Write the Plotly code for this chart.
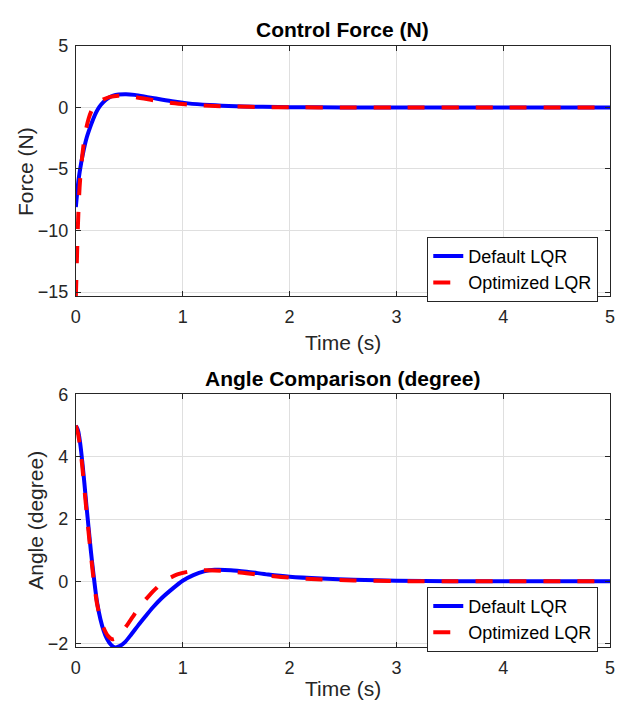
import plotly.graph_objects as go

# ---------------- data ----------------
t_force_default = [0, 0.025, 0.05, 0.075, 0.1, 0.13, 0.16, 0.19, 0.22, 0.26, 0.30, 0.35, 0.40, 0.47,
                   0.55, 0.65, 0.75, 0.9, 1.05, 1.25, 1.5, 1.75, 2.0, 2.5, 3.0, 4.0, 5.0]
force_default = [-8.1, -5.9, -4.5, -3.4, -2.5, -1.7, -1.0, -0.4, 0.05, 0.45, 0.75, 0.96, 1.05, 1.08,
                 1.02, 0.88, 0.72, 0.5, 0.33, 0.2, 0.1, 0.05, 0.02, 0.0, 0.0, 0.0, 0.0]

t_force_opt = [0, 0.008, 0.016, 0.025, 0.035, 0.05, 0.07, 0.09, 0.12, 0.15, 0.19, 0.25, 0.32, 0.40,
               0.47, 0.55, 0.65, 0.75, 0.9, 1.05, 1.25, 1.5, 1.75, 2.0, 2.5, 3.0, 4.0, 5.0]
force_opt = [-15.4, -13.0, -10.5, -8.3, -6.5, -4.8, -3.2, -2.0, -0.9, -0.2, 0.3, 0.62, 0.86, 0.95,
             0.93, 0.85, 0.7, 0.55, 0.36, 0.24, 0.14, 0.07, 0.03, 0.01, 0.0, 0.0, 0.0, 0.0]

t_angle_default = [0, 0.02, 0.04, 0.06, 0.08, 0.10, 0.12, 0.14, 0.16, 0.18, 0.20, 0.23, 0.26, 0.29,
                   0.33, 0.37, 0.41, 0.46, 0.52, 0.58, 0.65, 0.72, 0.8, 0.9, 1.0, 1.1, 1.2, 1.3,
                   1.45, 1.6, 1.8, 2.0, 2.3, 2.6, 3.0, 3.5, 4.0, 5.0]
angle_default = [5.0, 4.85, 4.45, 3.85, 3.15, 2.4, 1.7, 1.0, 0.38, -0.2, -0.7, -1.22, -1.58, -1.84,
                 -2.04, -2.12, -2.08, -1.95, -1.7, -1.43, -1.13, -0.84, -0.55, -0.25, 0.02, 0.2, 0.32, 0.37,
                 0.36, 0.31, 0.22, 0.15, 0.09, 0.05, 0.02, 0.0, 0.0, 0.0]

t_angle_opt = [0, 0.02, 0.04, 0.06, 0.08, 0.10, 0.12, 0.14, 0.16, 0.18, 0.20, 0.23, 0.26, 0.30,
               0.34, 0.38, 0.42, 0.47, 0.53, 0.6, 0.68, 0.76, 0.85, 0.95, 1.05, 1.15, 1.3,
               1.5, 1.75, 2.0, 2.3, 2.6, 3.0, 3.5, 4.0, 5.0]
angle_opt = [5.0, 4.75, 4.3, 3.7, 2.98, 2.25, 1.55, 0.88, 0.25, -0.3, -0.75, -1.2, -1.5, -1.75,
             -1.86, -1.82, -1.68, -1.45, -1.15, -0.8, -0.48, -0.2, 0.05, 0.22, 0.31, 0.35, 0.35,
             0.3, 0.2, 0.12, 0.06, 0.03, 0.01, 0.0, 0.0, 0.0]

x_ticks = [0, 1, 2, 3, 4, 5]
force_ticks = [-15, -10, -5, 0, 5]
angle_ticks = [-2, 0, 2, 4, 6]

series_names = ["Default LQR", "Optimized LQR"]
titles = ["Control Force (N)", "Angle Comparison (degree)"]
xlabel = "Time (s)"
ylabels = ["Force (N)", "Angle (degree)"]

# ---------------- styling ----------------
W, H = 620, 713
FONT = "Liberation Sans, Arial, Helvetica, sans-serif"
AX = "#262626"
GRID = "#dfdfdf"
BLUE = "#0000ff"
RED = "#ff0000"

def px(y):
    return 1 - y / H

fig = go.Figure()

def add_pair(tx1, y1, tx2, y2, xa, ya, legend):
    fig.add_trace(go.Scatter(x=tx1, y=y1, mode="lines", name=series_names[0],
                             line=dict(color=BLUE, width=4, shape="spline", smoothing=0.8),
                             xaxis=xa, yaxis=ya, legend=legend))
    fig.add_trace(go.Scatter(x=tx2, y=y2, mode="lines", name=series_names[1],
                             line=dict(color=RED, width=4, dash="17px,17px", shape="spline", smoothing=0.8),
                             xaxis=xa, yaxis=ya, legend=legend))

add_pair(t_force_default, force_default, t_force_opt, force_opt, "x", "y", "legend")
add_pair(t_angle_default, angle_default, t_angle_opt, angle_opt, "x2", "y2", "legend2")

xdom = [72 / W, 615 / W]
top_dom = [px(293), px(36.7)]
bot_dom = [px(652), px(393.3)]

common = dict(showline=True, linecolor=AX, linewidth=1, mirror="ticks", ticks="inside",
              ticklen=5, tickwidth=1, tickcolor=AX, showgrid=True, gridcolor=GRID, gridwidth=1,
              zeroline=False, tickfont=dict(family=FONT, size=18, color=AX),
              ticklabeloverflow="allow")

fig.update_layout(
    width=W, height=H, margin=dict(l=0, r=0, t=0, b=0),
    paper_bgcolor="white", plot_bgcolor="white",
    showlegend=True,
    xaxis=dict(domain=xdom, anchor="y", range=[0, 5], tickvals=x_ticks, ticklabelstandoff=4, **common),
    yaxis=dict(domain=top_dom, anchor="x", range=[-15.35, 5], tickvals=force_ticks, ticklabelstandoff=3, **common),
    xaxis2=dict(domain=xdom, anchor="y2", range=[0, 5], tickvals=x_ticks, ticklabelstandoff=4, **common),
    yaxis2=dict(domain=bot_dom, anchor="x2", range=[-2.12, 6], tickvals=angle_ticks, ticklabelstandoff=3, **common),
    legend=dict(x=603 / W, y=px(232), xanchor="right", yanchor="top", bgcolor="white",
                bordercolor=AX, borderwidth=1, font=dict(family=FONT, size=18, color="black"),
                tracegroupgap=0, itemwidth=30),
    legend2=dict(x=603 / W, y=px(590), xanchor="right", yanchor="top", bgcolor="white",
                 bordercolor=AX, borderwidth=1, font=dict(family=FONT, size=18, color="black"),
                 tracegroupgap=0, itemwidth=30),
)

ann = []
ann.append(dict(text="<b>" + titles[0] + "</b>", x=(xdom[0] + xdom[1]) / 2, y=px(19.5)))
ann.append(dict(text="<b>" + titles[1] + "</b>", x=(xdom[0] + xdom[1]) / 2, y=px(377)))
for a in ann:
    a.update(xref="paper", yref="paper", xanchor="center", yanchor="middle", showarrow=False,
             font=dict(family=FONT, size=21, color="black"))
labels = [
    dict(text=xlabel, x=(xdom[0] + xdom[1]) / 2, y=px(340), textangle=0),
    dict(text=xlabel, x=(xdom[0] + xdom[1]) / 2, y=px(694), textangle=0),
    dict(text=ylabels[0], x=21 / W, y=px(165), textangle=-90),
    dict(text=ylabels[1], x=31 / W, y=px(522), textangle=-90),
]
for a in labels:
    a.update(xref="paper", yref="paper", xanchor="center", yanchor="middle", showarrow=False,
             font=dict(family=FONT, size=21, color=AX))
fig.update_layout(annotations=ann + labels)

fig.write_html("out.html")
